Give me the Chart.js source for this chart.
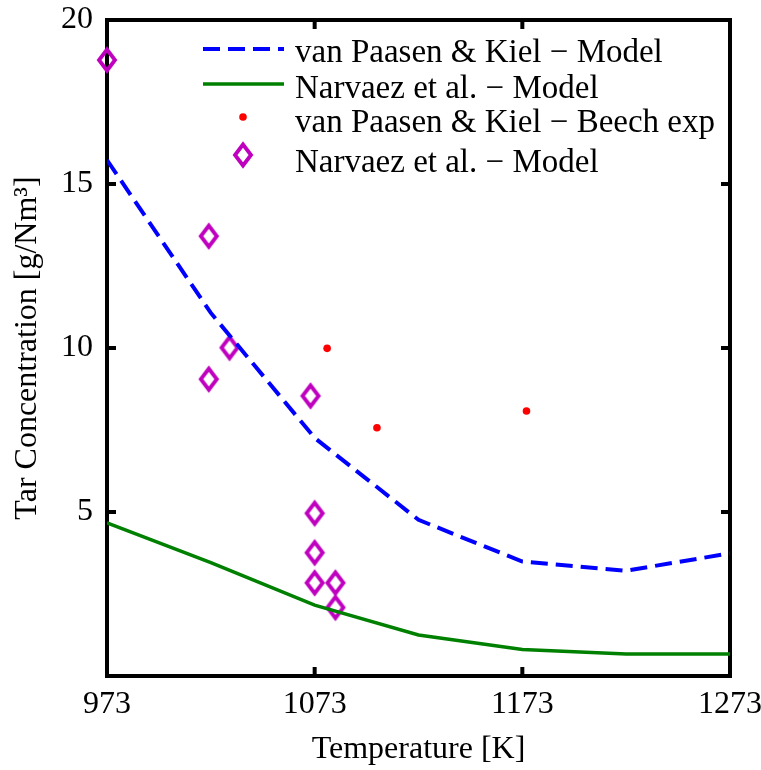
<!DOCTYPE html>
<html>
<head>
<meta charset="utf-8">
<script src="https://cdn.jsdelivr.net/npm/chart.js@4.4.0/dist/chart.umd.min.js"></script>
<style>
  html, body { margin: 0; padding: 0; background: #fff; }
</style>
</head>
<body>
<canvas id="chart" width="761" height="770"></canvas>
<script>
// model curves, read at 50 K steps
const temps = [973, 1023, 1073, 1123, 1173, 1223, 1273];
const vanPaasenModel = [15.73, 11.07, 7.26, 4.76, 3.49, 3.21, 3.74];
const narvaezModel = [4.67, 3.46, 2.16, 1.25, 0.81, 0.67, 0.67];

// experimental points
const beechExpTemps = [1079, 1103, 1175];
const beechExpConc = [9.99, 7.57, 8.08];
const narvaezPtTemps = [973, 1022, 1032, 1022, 1071, 1073, 1073, 1073, 1083, 1083];
const narvaezPtConc = [18.78, 13.41, 10.01, 9.05, 8.54, 4.96, 3.76, 2.84, 2.84, 2.09];

const xTicks = [973, 1073, 1173, 1273];
const yTicks = [5, 10, 15, 20];

const labels = [
  "van Paasen & Kiel \u2212 Model",
  "Narvaez et al. \u2212 Model",
  "van Paasen & Kiel \u2212 Beech exp",
  "Narvaez et al. \u2212 Model"
];

const FONT = "'Liberation Serif', 'Times New Roman', serif";
const MAGENTA = "#bf00bf";

function toPoints(xs, ys) {
  return xs.map((x, i) => ({ x, y: ys[i] }));
}

function makeDiamond() {
  const c = document.createElement("canvas");
  c.width = 26;
  c.height = 32;
  const g = c.getContext("2d");
  g.strokeStyle = MAGENTA;
  g.lineWidth = 3.8;
  g.beginPath();
  g.moveTo(13, 5.5);
  g.lineTo(21, 16);
  g.lineTo(13, 26.5);
  g.lineTo(5, 16);
  g.closePath();
  g.stroke();
  return c;
}
const diamond = makeDiamond();

// labels at the ends should not shrink the plot box
function noEdgePadding(s) {
  s.paddingLeft = 0;
  s.paddingRight = 0;
  s.paddingTop = 0;
  s.paddingBottom = 0;
}

// box round the plot with inward ticks on all four sides
const frameTicks = {
  id: "frameTicks",
  beforeDatasetsDraw(chart) {
    const { ctx, chartArea: a, scales: { x, y } } = chart;
    const len = 9;
    ctx.save();
    ctx.strokeStyle = "#000";
    ctx.lineWidth = 4;
    ctx.strokeRect(a.left, a.top, a.right - a.left, a.bottom - a.top);
    ctx.beginPath();
    xTicks.forEach(v => {
      const px = x.getPixelForValue(v);
      ctx.moveTo(px, a.bottom); ctx.lineTo(px, a.bottom - len);
      ctx.moveTo(px, a.top); ctx.lineTo(px, a.top + len);
    });
    yTicks.forEach(v => {
      const py = y.getPixelForValue(v);
      ctx.moveTo(a.left, py); ctx.lineTo(a.left + len, py);
      ctx.moveTo(a.right, py); ctx.lineTo(a.right - len, py);
    });
    ctx.stroke();
    ctx.restore();
  }
};

// legend in the upper right of the plot, like the matlab one
const legendBox = {
  id: "legendBox",
  afterDatasetsDraw(chart) {
    const { ctx } = chart;
    const ds = chart.data.datasets;
    const symX = 243, textX = 295;
    const symY = [49, 84, 117, 155];
    const baseY = [62, 98, 132, 172];
    ctx.save();
    ds.forEach((d, i) => {
      if (d.showLine === false) {
        if (d.pointStyle === "circle") {
          ctx.fillStyle = d.backgroundColor;
          ctx.beginPath();
          ctx.arc(symX, symY[i], d.pointRadius, 0, Math.PI * 2);
          ctx.fill();
        } else {
          ctx.drawImage(diamond, symX - diamond.width / 2, symY[i] - diamond.height / 2);
        }
      } else {
        ctx.strokeStyle = d.borderColor;
        ctx.lineWidth = d.borderWidth;
        ctx.setLineDash(d.borderDash || []);
        ctx.beginPath();
        ctx.moveTo(203, symY[i]);
        ctx.lineTo(284, symY[i]);
        ctx.stroke();
        ctx.setLineDash([]);
      }
      ctx.fillStyle = "#000";
      ctx.font = "33px " + FONT;
      ctx.textBaseline = "alphabetic";
      ctx.fillText(d.label, textX, baseY[i]);
    });
    ctx.restore();
  }
};

new Chart(document.getElementById("chart"), {
  type: "line",
  data: {
    datasets: [
      {
        label: labels[0],
        data: toPoints(temps, vanPaasenModel),
        borderColor: "#0000ff",
        borderWidth: 4,
        borderDash: [17, 8],
        pointRadius: 0,
        tension: 0,
        fill: false
      },
      {
        label: labels[1],
        data: toPoints(temps, narvaezModel),
        borderColor: "#008000",
        borderWidth: 3.5,
        pointRadius: 0,
        tension: 0,
        fill: false
      },
      {
        type: "scatter",
        label: labels[2],
        data: toPoints(beechExpTemps, beechExpConc),
        showLine: false,
        pointStyle: "circle",
        pointRadius: 3.8,
        backgroundColor: "#ff0000",
        borderWidth: 0,
        clip: false
      },
      {
        type: "scatter",
        label: labels[3],
        data: toPoints(narvaezPtTemps, narvaezPtConc),
        showLine: false,
        pointStyle: diamond,
        pointRadius: 10,
        clip: false
      }
    ]
  },
  options: {
    responsive: false,
    animation: false,
    layout: { padding: { top: 20, right: 31, left: 0, bottom: 0 } },
    plugins: {
      legend: { display: false },
      tooltip: { enabled: false }
    },
    scales: {
      x: {
        type: "linear",
        min: 973,
        max: 1273,
        afterBuildTicks: s => { s.ticks = xTicks.map(v => ({ value: v })); },
        afterFit: s => { s.height = 94; noEdgePadding(s); },
        grid: { display: false, drawTicks: false },
        border: { display: false },
        ticks: {
          color: "#000",
          font: { family: FONT, size: 32 },
          padding: 9,
          maxRotation: 0,
          autoSkip: false,
          callback: v => String(v)
        },
        title: {
          display: true,
          text: "Temperature [K]",
          color: "#000",
          font: { family: FONT, size: 32 },
          padding: { top: 0, bottom: 1 }
        }
      },
      y: {
        type: "linear",
        min: 0,
        max: 20,
        afterBuildTicks: s => { s.ticks = yTicks.map(v => ({ value: v })); },
        afterFit: s => { s.width = 107; noEdgePadding(s); },
        grid: { display: false, drawTicks: false },
        border: { display: false },
        ticks: {
          color: "#000",
          font: { family: FONT, size: 32 },
          padding: 14,
          autoSkip: false,
          callback: v => String(v)
        },
        title: {
          display: true,
          text: "Tar Concentration [g/Nm\u00b3]",
          color: "#000",
          font: { family: FONT, size: 32 },
          padding: { top: 8, bottom: 0 }
        }
      }
    }
  },
  plugins: [frameTicks, legendBox]
});
</script>
</body>
</html>
